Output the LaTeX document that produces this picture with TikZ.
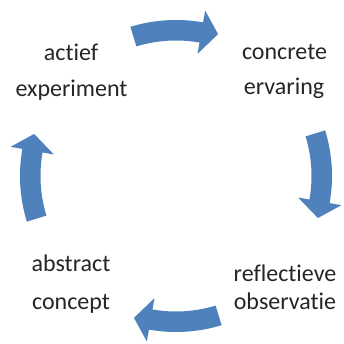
\documentclass[tikz,border=0pt]{standalone}
\usepackage{fontspec}
\setmainfont{Carlito}[Ligatures=NoCommon]
\definecolor{cycleblue}{RGB}{79,129,189}
\definecolor{txtgray}{RGB}{38,38,38}
\tikzset{
  lbl/.style={anchor=base,font=\fontsize{24}{29}\selectfont,text=txtgray,inner sep=0pt},
  cyc/.style={fill=cycleblue,draw=none}
}
\newcommand{\cycarrow}[1]{%
  \fill[cyc] ({#1+17}:156) arc[start angle={#1+17},end angle={#1-10},radius=156]
    -- ({#1-10}:168) -- ({#1-16.5}:148) -- ({#1-10}:124) -- ({#1-10}:135.5)
    arc[start angle={#1-10},end angle={#1+17},radius=135.5] -- cycle;}
\begin{document}
\begin{tikzpicture}[x=1pt,y=1pt]
\fill[white] (0,0) rectangle (344,344);
\useasboundingbox (0,0) rectangle (344,344);
\coordinate (C) at (176,168);
\begin{scope}[shift={(C)}]
  \cycarrow{90}
  \cycarrow{0}
  \cycarrow{-90}
  \cycarrow{180}
\end{scope}
\node[lbl] (ae1) at (71,283) {actief};
\node[lbl] (ae2) at (71.5,247.5) {experiment};
\node[lbl] (ce1) at (284.5,284) {concrete};
\node[lbl] (ce2) at (284,249) {ervaring};
\node[lbl] (ro1) at (285,62.5) {reflectieve};
\node[lbl] (ro2) at (285,34) {observatie};
\node[lbl] (ac1) at (71,72.5) {abstract};
\node[lbl] (ac2) at (71,34) {concept};
\end{tikzpicture}
\end{document}
